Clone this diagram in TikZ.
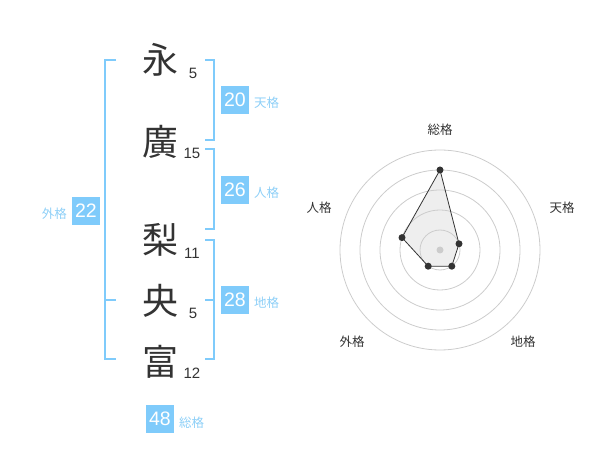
\documentclass[tikz,border=0pt]{standalone}
\usepackage{fontspec}
\setmainfont{Liberation Sans}
\newfontfamily\jp{Noto Sans CJK JP}
\definecolor{kblue}{HTML}{7FCBFB}
\definecolor{klabel}{HTML}{8DCFF7}
\definecolor{kdark}{HTML}{333333}
\definecolor{kring}{HTML}{CCCCCC}
\definecolor{kfill}{HTML}{EEEEEE}
\begin{document}
\begin{tikzpicture}[x=1pt,y=-1pt,
  kanji/.style={font=\jp\fontsize{36}{36}\selectfont,text=kdark,inner sep=0pt},
  strokes/.style={font=\fontsize{15}{15}\selectfont,text=kdark,inner sep=0pt},
  valbox/.style={fill=kblue,text=white,minimum width=28.5pt,minimum height=28.5pt,inner sep=0pt,font=\fontsize{19.5}{19.5}\selectfont},
  kaku/.style={font=\jp\fontsize{12.5}{12.5}\selectfont,text=klabel,inner sep=0pt},
  bracket/.style={draw=kblue,line width=2pt},
  ring/.style={draw=kring,line width=0.8pt},
  axislabel/.style={font=\jp\fontsize{12.5}{12.5}\selectfont,text=kdark,inner sep=0pt},
  dot/.style={circle,fill=kdark,inner sep=0pt,minimum size=7pt}
]
\useasboundingbox (0,0) rectangle (600,470);
% kanji and stroke counts
\node[kanji] (k1) at (160,60) {永};
\node[strokes] (n1) at (193,73) {5};
\node[kanji] (k2) at (160,142) {廣};
\node[strokes] (n2) at (192,153) {15};
\node[kanji] (k3) at (160,240) {梨};
\node[strokes] (n3) at (192,253) {11};
\node[kanji] (k4) at (160,301) {央};
\node[strokes] (n4) at (193,313) {5};
\node[kanji] (k5) at (160,362) {富};
\node[strokes] (n5) at (192,373) {12};
% brackets
\draw[bracket] (205,60) -- (214,60) -- (214,140) -- (205,140);
\draw[bracket] (205,149) -- (214,149) -- (214,229) -- (205,229);
\draw[bracket] (205,240) -- (214,240) -- (214,359) -- (205,359);
\draw[bracket] (205,300) -- (214,300);
\draw[bracket] (116,60) -- (105,60) -- (105,359) -- (116,359);
\draw[bracket] (105,300) -- (116,300);
% value boxes
\node[valbox] (b1) at (235,100) {20};
\node[kaku,anchor=west] (l1) at (254,103) {天格};
\node[valbox] (b2) at (235,190) {26};
\node[kaku,anchor=west] (l2) at (254,193) {人格};
\node[valbox] (b3) at (235,300) {28};
\node[kaku,anchor=west] (l3) at (254,303) {地格};
\node[valbox] (b4) at (86,211) {22};
\node[kaku,anchor=east] (l4) at (67,214) {外格};
\node[valbox] (b5) at (160,419) {48};
\node[kaku,anchor=west] (l5) at (179,423) {総格};
% radar
\coordinate (c) at (440,250);
\coordinate (p1) at (440,170);
\coordinate (p2) at (459.0,243.8);
\coordinate (p3) at (451.8,266.2);
\coordinate (p4) at (428.2,266.2);
\coordinate (p5) at (402.0,237.6);
\fill[kfill] (p1) -- (p2) -- (p3) -- (p4) -- (p5) -- cycle;
\foreach \r in {20,40,60,80,100} \draw[ring] (c) circle[radius=\r];
\draw[kdark,line width=0.8pt] (p1) -- (p2) -- (p3) -- (p4) -- (p5) -- cycle;
\node[circle,fill=kring,inner sep=0pt,minimum size=7pt] (cd) at (c) {};
\foreach \p in {p1,p2,p3,p4,p5} \node[dot] at (\p) {};
\node[axislabel] (a1) at (440,130) {総格};
\node[axislabel] (a2) at (562,208) {天格};
\node[axislabel] (a3) at (523,342) {地格};
\node[axislabel] (a4) at (352,342) {外格};
\node[axislabel] (a5) at (319,208) {人格};
\end{tikzpicture}
\end{document}
